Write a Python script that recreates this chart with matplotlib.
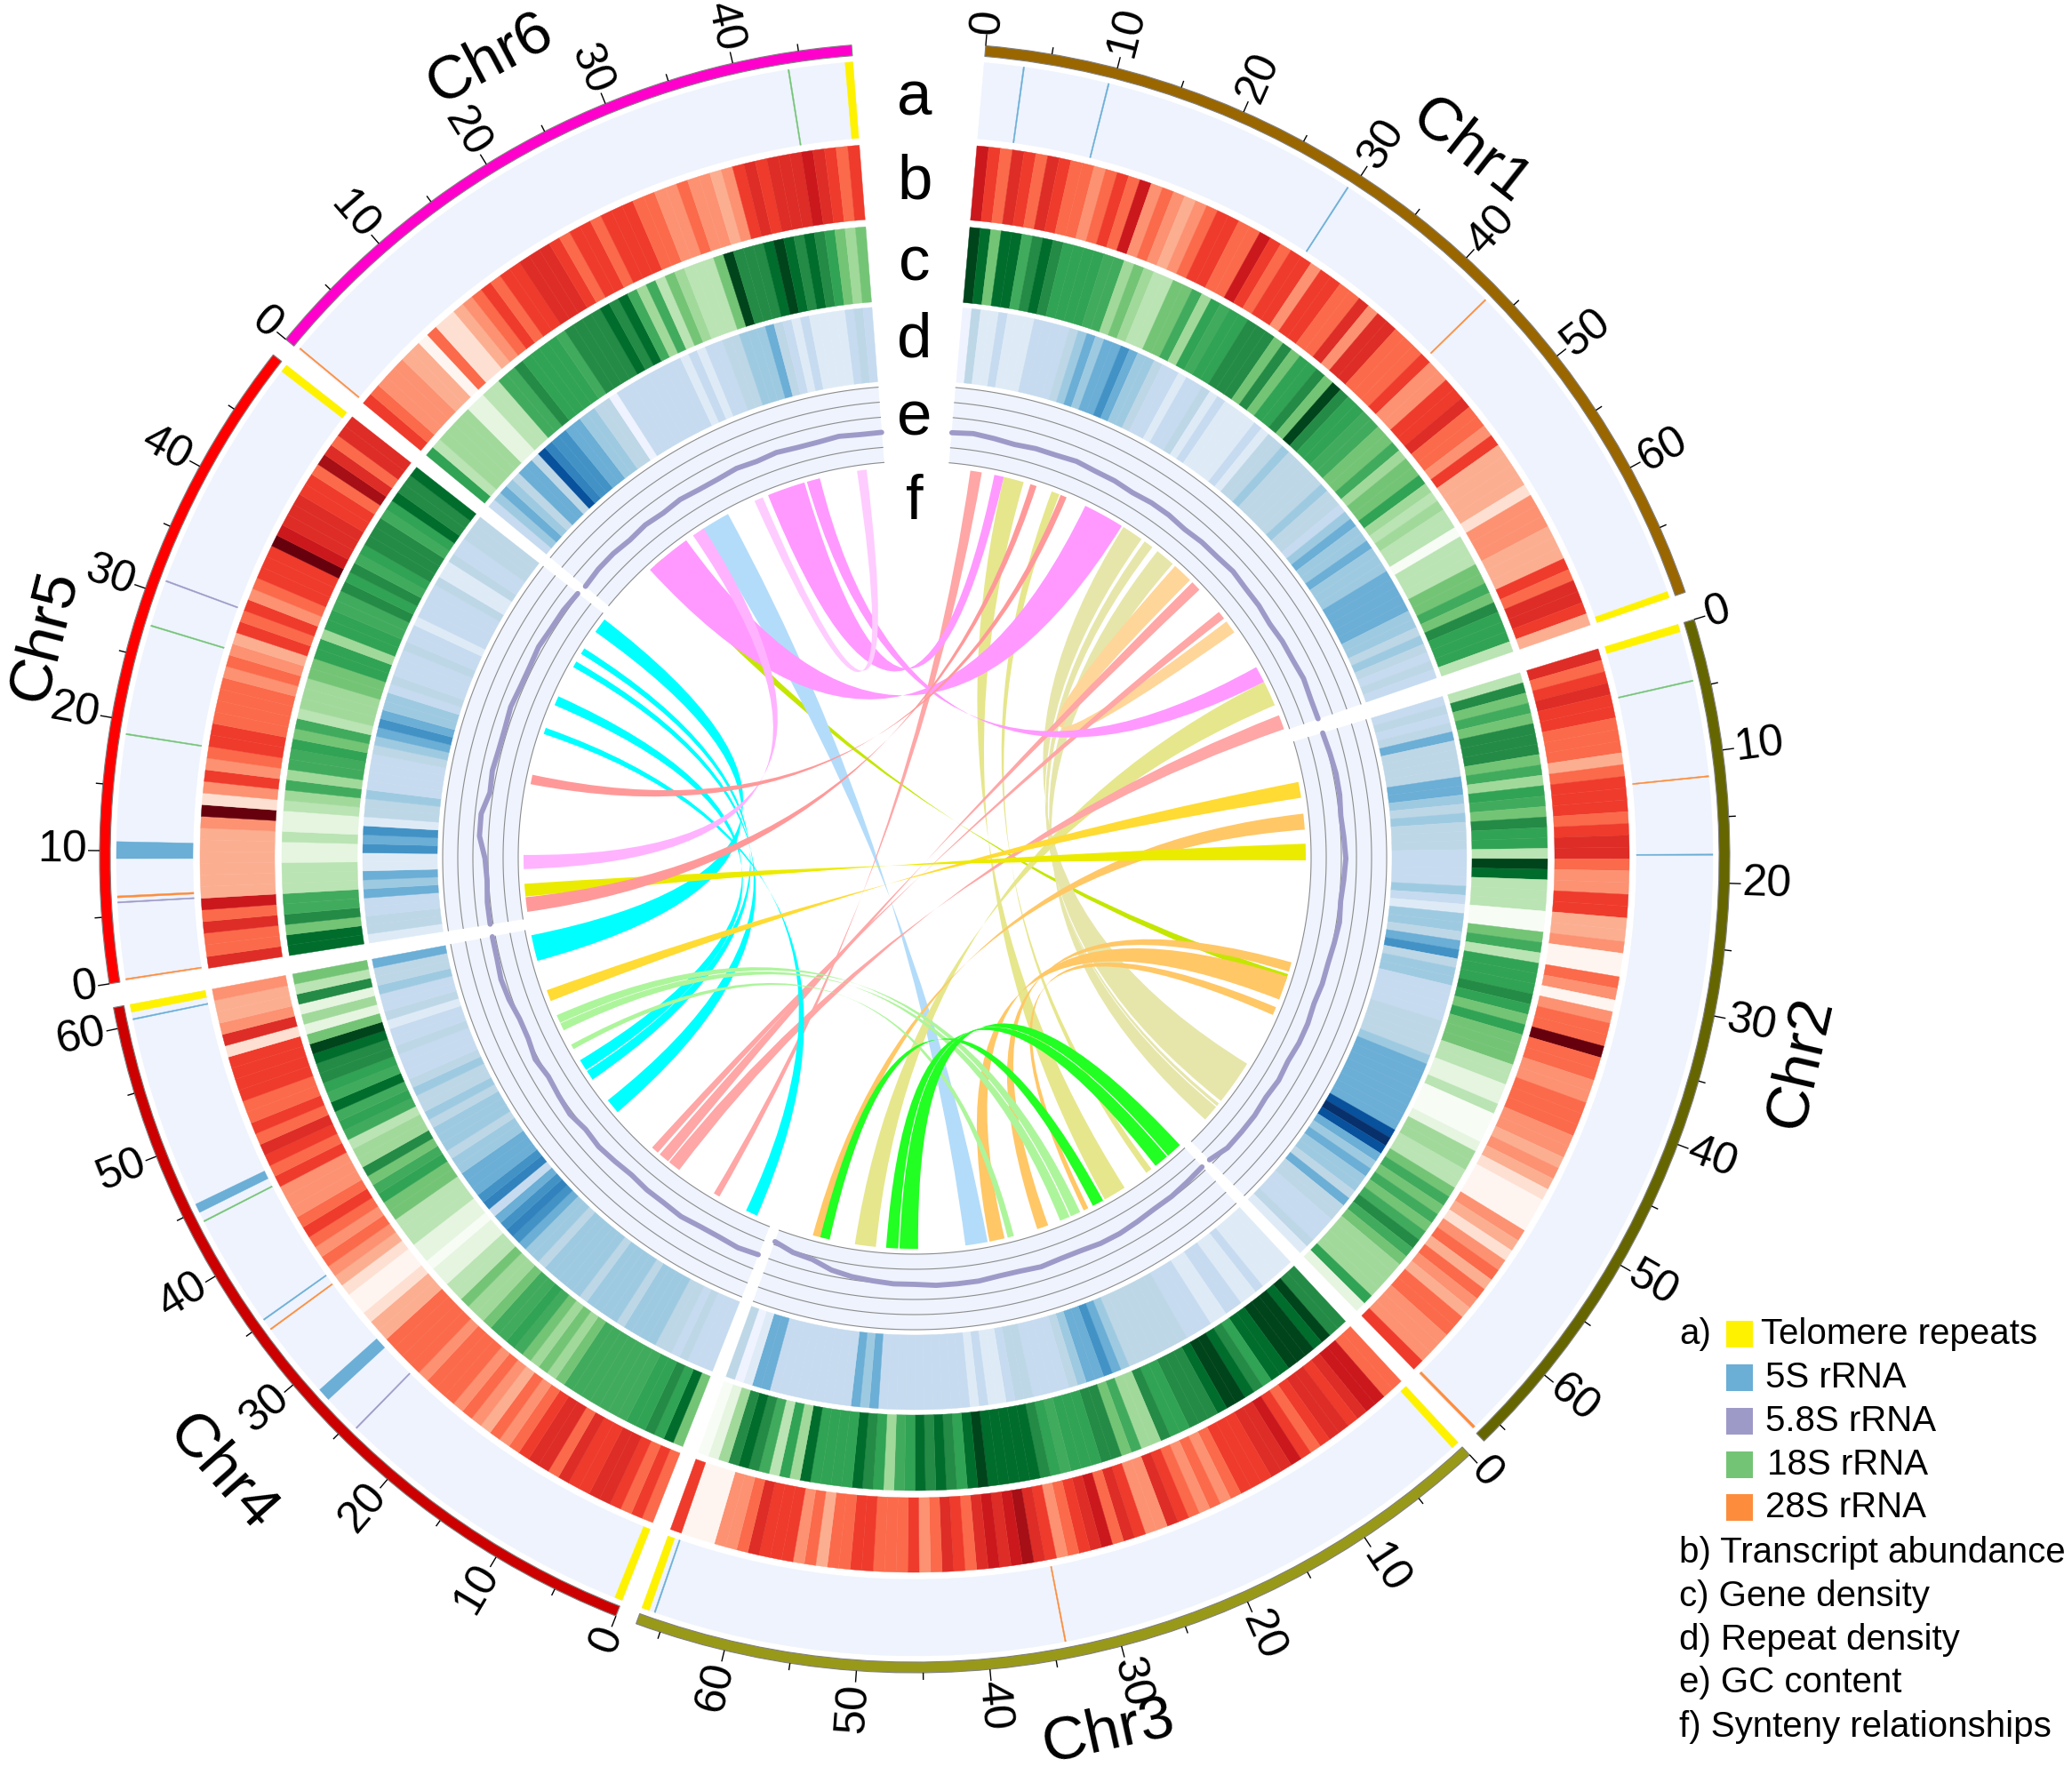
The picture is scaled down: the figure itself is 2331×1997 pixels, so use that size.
import numpy as np
import matplotlib
matplotlib.use('Agg')
import matplotlib.pyplot as plt
from matplotlib.patches import Wedge, PathPatch, Rectangle
from matplotlib.path import Path

plt.rcParams['font.family'] = ['Liberation Sans', 'DejaVu Sans']

chr_names = ['Chr1', 'Chr2', 'Chr3', 'Chr4', 'Chr5', 'Chr6']
chr_lengths = [70.2, 66.7, 66.9, 61.6, 50.0, 49.0]

# one digit per Mb, level 0-9 of the colour scale
transcript = [
    '754654654434547343234554475455355446366444533556443522221333222546652',
    '645655444245554566433552230043034494433444332321000321342432443335',
    '44776566545766555434345633564765435687676456435444554424355564330005',
    '45456655646654342343444344442210012343454333545645445555163223',
    '64464722222239135345544443432545345559766655486466',
    '5433322041123454556665455455544334332356566676545',
]
gene_density = [
    '984885787666655343224453656677747466749766554453446323220222445476662',
    '274547774536547662982220045266676464442211200013322454545754333361',
    '779899988678998777667335477666567888889867878653678666683625787310',
    '48676655555554343456554334221101122244654733256585677894131724',
    '88475522211211235355645233344663665576756777568778',
    '6233331122557666657777878535243222497778987876434',
]
repeat_density = [
    '0311211122223454556544322122312111121334333334332454454445555544343232',
    '232353333554343332222421443563442222333345555555589854544353322231',
    '111121122112223333333456554322223321121222222222254522222222255103',
    '22232334444344443444443445676527655544344434334322232213224335',
    '13322545116561334222234565442322232212222311322333',
    '2454355387665544330222222221212233444532121111232',
]
gc_content = [
    [40, 40.5, 40, 39.5, 40, 40, 40.5, 40, 40, 39.5, 40, 40, 39.5, 40, 40, 40.5, 40, 40, 39.5, 40, 40, 40.5, 40, 40],
    [40, 40.5, 41, 41, 40.5, 41, 41.5, 41, 40.5, 41, 40.5, 40, 40, 39.5, 40, 40, 39.5, 40, 39.5, 40, 40, 40, 38.5],
    [38.5, 39, 39.5, 39.5, 40, 40.5, 40.5, 40, 40, 40.5, 40, 40, 40.5, 40.5, 40.5, 40, 40, 39.5, 39, 38, 36, 35.5, 34],
    [40, 40.5, 40, 40, 40.5, 40, 40, 39.5, 40, 40.5, 40, 41, 40.5, 40, 41, 40, 40, 41, 41.5, 41, 41],
    [41, 41, 40.5, 41, 43, 43, 41, 41.5, 41, 41, 41.5, 41, 41, 41.5, 41, 41, 40.5],
    [40, 40.5, 40.5, 40, 40.5, 40, 40.5, 40, 40, 40.5, 40, 40.5, 40, 40, 40.5, 40, 40],
]
gc_grid = [30, 35, 40, 45, 50, 55]

# (chromosome, start Mb, end Mb)
telomere = [(1, 69.7, 70.2), (2, 0, 0.6), (3, 0, 0.6), (3, 66.3, 66.9), (4, 0, 0.6),
            (4, 61, 61.6), (5, 49.4, 50), (6, 48.4, 49)]
rrna_5s = [(1, 3, 3.1), (1, 9.6, 9.7), (1, 29.6, 29.7), (2, 17.8, 17.9), (3, 65.8, 65.9),
           (4, 27.4, 28.4), (4, 35.2, 35.3), (4, 44.8, 45.5), (4, 60.4, 60.5), (5, 9.4, 10.7)]
rrna_58s = [(4, 24.3, 24.4), (5, 6, 6.1), (5, 31, 31.1)]
rrna_18s = [(2, 4.4, 4.5), (4, 44, 44.1), (5, 18.9, 19), (5, 27.4, 27.5), (6, 44, 44.1)]
rrna_28s = [(1, 43.2, 43.3), (2, 11.8, 11.9), (2, 66.4, 66.6), (3, 34, 34.1), (4, 34.3, 34.4),
            (5, 0.1, 0.2), (5, 6.4, 6.55), (6, 0.1, 0.2)]

# synteny blocks: (chr a, start, end, chr b, start, end)
links_lime = [(2, 36.5, 37.8, 6, 9.5, 11)]
links_blue = [(3, 34.2, 37.7, 6, 18.6, 23.4)]
links_khaki = [(1, 8.7, 11.9, 3, 11.1, 14.7), (1, 16.5, 17.8, 3, 6, 7), (1, 62, 66, 3, 51.7, 55)]
links_pale_khaki = [(1, 29, 32.4, 2, 51.9, 59), (1, 33, 34.5, 2, 59.5, 60), (1, 35.5, 38.6, 2, 60.2, 62.8)]
links_pale_orange = [(1, 39.1, 42.3, 1, 50.9, 53)]
links_orange = [(2, 11.2, 13.7, 3, 60.1, 61.7), (2, 34.6, 36.1, 3, 24.4, 26.2),
                (2, 36.9, 40.7, 3, 31.5, 33.9), (2, 42, 43.3, 3, 17.6, 18.4)]
links_gold = [(2, 6.2, 8.7, 4, 50, 51.8)]
links_yellow = [(2, 15.9, 18.5, 5, 3.4, 5.4)]
links_light_salmon = [(1, 3.4, 5.2, 4, 9, 10), (1, 67.7, 70, 4, 16.5, 18.5),
                      (1, 42.8, 44.4, 4, 18.7, 20.4), (1, 49, 50.3, 4, 20.8, 22)]
links_salmon = [(1, 13, 14, 5, 1, 3.3), (1, 18, 19, 5, 21, 22.5)]
links_cyan = [(5, 47, 49.4, 4, 56.6, 60.7), (5, 42.9, 43.9, 4, 36.1, 37.7), (5, 33.9, 35.4, 4, 37.9, 39.7),
              (5, 40.5, 41.5, 4, 29.7, 32.1), (5, 29.1, 30.1, 4, 2.4, 4.3)]
links_light_green = [(4, 46.3, 47.6, 3, 19, 20.6), (4, 45, 46.2, 3, 20.8, 22.4), (4, 41.7, 42.5, 3, 30, 31)]
links_green = [(3, 0.2, 2.7, 3, 45.1, 48), (3, 2.9, 5.2, 3, 48.2, 50.1), (3, 15, 16.8, 3, 59, 60.5)]
links_pink = [(1, 22.2, 28.7, 6, 8.4, 15.7), (1, 7.2, 8.7, 6, 30.3, 36.3), (1, 59.4, 62, 6, 36.7, 38.8)]
links_pale_pink = [(6, 44.7, 46.2, 6, 28, 29.4)]
links_mid_pink = [(6, 17, 19, 5, 7.7, 9.9)]

legend_rrna = ['Telomere repeats', '5S rRNA', '5.8S rRNA', '18S rRNA', '28S rRNA']
legend_rest = ['b) Transcript abundance', 'c) Gene density', 'd) Repeat density', 'e) GC content', 'f) Synteny relationships']
track_letters = ['a', 'b', 'c', 'd', 'e', 'f']

W, H = 2331, 1997
cx, cy = 1029, 965
chr_starts = [5.0, 73.0, 137.1, 201.5, 261.1, 309.5]
deg_per_mb = 0.94
chr_colors = ['#996600', '#666600', '#999919', '#CC0000', '#FF0000', '#FF00CC']
bg = '#EEF3FD'
reds = ['#FFF5F0', '#FEE0D2', '#FCAE91', '#FC9272', '#FB6A4A', '#EF3B2C', '#DE2D26', '#CB181D', '#A50F15', '#67000D']
greens = ['#F7FCF5', '#E5F5E0', '#BAE4B3', '#A1D99B', '#74C476', '#41AB5D', '#31A354', '#238B45', '#006D2C', '#00441B']
blues = ['#EFF3FF', '#DEEBF7', '#C6DBEF', '#BDD7E7', '#9ECAE1', '#6BAED6', '#4292C6', '#3182BD', '#08519C', '#08306B']


def ang(ch, mb):
    return chr_starts[ch - 1] + mb * deg_per_mb


def pol(theta, r):
    t = np.radians(theta)
    return r * np.sin(t), r * np.cos(t)


def px(x, y):
    return x - cx, cy - y


def gc_radius(v):
    return 446 + (v - 30) * 3.4


def sector(ax, a1, a2, r1, r2, color, **kw):
    ax.add_patch(Wedge((0, 0), r2, 90 - a2, 90 - a1, width=r2 - r1, facecolor=color,
                       edgecolor=kw.pop('edgecolor', color), linewidth=kw.pop('linewidth', 0.3), **kw))


def ribbon(ax, link, color):
    c1, s1, e1, c2, s2, e2 = link
    a1, a2 = ang(c1, s1), ang(c1, e1)
    b1, b2 = ang(c2, s2), ang(c2, e2)
    r = 440
    arc1 = [pol(t, r) for t in np.linspace(a1, a2, 12)]
    arc2 = [pol(t, r) for t in np.linspace(b2, b1, 12)]
    verts = arc1 + [(0, 0), arc2[0]] + arc2[1:] + [(0, 0), arc1[0], arc1[0]]
    codes = [Path.MOVETO] + [Path.LINETO] * 11 + [Path.CURVE3, Path.CURVE3] + [Path.LINETO] * 11 \
        + [Path.CURVE3, Path.CURVE3, Path.CLOSEPOLY]
    ax.add_patch(PathPatch(Path(verts, codes), facecolor=color, edgecolor='none', linewidth=0))


fig = plt.figure(figsize=(W / 100, H / 100), dpi=100)
ax = fig.add_axes([0, 0, 1, 1])
ax.set_xlim(-cx, W - cx)
ax.set_ylim(cy - H, cy)
ax.set_aspect('equal')
ax.axis('off')

tracks = [(720, 804, transcript, reds), (627, 712, gene_density, greens), (537, 621, repeat_density, blues)]

for i, name in enumerate(chr_names):
    ch = i + 1
    length = chr_lengths[i]
    start, end = ang(ch, 0), ang(ch, length)

    sector(ax, start, end, 905, 917, chr_colors[i], edgecolor='#808080', linewidth=0.8)
    sector(ax, start, end, 812, 898, bg)
    sector(ax, start, end, 446, 531, bg)

    for tick in range(0, int(length), 5):
        t = ang(ch, tick)
        major = tick % 10 == 0
        x0, y0 = pol(t, 917)
        x1, y1 = pol(t, 930 if major else 925)
        ax.plot([x0, x1], [y0, y1], color='black', lw=1.0, solid_capstyle='butt')
        if major:
            x, y = pol(t, 931)
            right = t < 180
            rot = 90 - t if right else 270 - t
            ax.text(x, y, str(tick), rotation=rot, fontsize=36, ha='left' if right else 'right',
                    va='center', rotation_mode='anchor')

    for r1, r2, data, pal in tracks:
        levels = data[i]
        w = length / len(levels)
        for j, lv in enumerate(levels):
            sector(ax, ang(ch, j * w), ang(ch, (j + 1) * w), r1, r2, pal[int(lv)])

    for g in gc_grid:
        ts = np.linspace(start, end, 120)
        xy = np.array([pol(t, gc_radius(g)) for t in ts])
        ax.plot(xy[:, 0], xy[:, 1], color='#8C8C8C', lw=0.8)

    vals = gc_content[i]
    mbs = np.linspace(0, length, len(vals))
    xy = np.array([pol(ang(ch, m), gc_radius(v)) for m, v in zip(mbs, vals)])
    ax.plot(xy[:, 0], xy[:, 1], color='#9E9AC8', lw=4.2, solid_capstyle='round', solid_joinstyle='round')

for features, color in [(telomere, '#FFF200'), (rrna_5s, '#6BAED6'), (rrna_58s, '#9E9AC8'),
                        (rrna_18s, '#74C476'), (rrna_28s, '#FD8D3C')]:
    for ch, s, e in features:
        sector(ax, ang(ch, s), ang(ch, e), 812, 898, color)

for links, color in [(links_lime, '#C4E600'), (links_blue, '#B3DCFA'), (links_pale_khaki, '#E6E6AA'),
                     (links_khaki, '#E6E68C'), (links_pale_orange, '#FFD699'), (links_orange, '#FFC766'),
                     (links_light_salmon, '#FFA6A6'), (links_cyan, '#00FFFF'), (links_light_green, '#ADF59B'),
                     (links_green, '#22FF22'), (links_pink, '#FF99FF'), (links_pale_pink, '#FFCCFF'),
                     (links_mid_pink, '#FFB3FF'), (links_gold, '#FFDB33'), (links_yellow, '#EBEB00'),
                     (links_salmon, '#FF9999')]:
    for link in links:
        ribbon(ax, link, color)

chr_label_pos = [(38.2, 1011), (103, 1023), (167.5, 1008), (228.4, 1043), (284.3, 1010), (332, 1018)]
for name, (t, r) in zip(chr_names, chr_label_pos):
    x, y = pol(t, r)
    rot = -t if (t < 90 or t > 270) else 180 - t
    ax.text(x, y, name, rotation=rot, fontsize=50, ha='center', va='center', rotation_mode='anchor')

letter_y = [112, 205, 298, 383, 472, 566]
for letter, y in zip(track_letters, letter_y):
    x0, y0 = px(1029, y)
    ax.text(x0, y0, letter, fontsize=51, ha='center', va='center')

rrna_colors = ['#FFF200', '#6BAED6', '#9E9AC8', '#74C476', '#FD8D3C']
rows_y = [1501, 1550, 1599, 1648, 1696]
rows_x = [1981, 1986, 1986, 1988, 1986]
x0, y0 = px(1889, 1501)
ax.text(x0, y0, 'a)', fontsize=29, ha='left', va='center')
for txt, col, y, x in zip(legend_rrna, rrna_colors, rows_y, rows_x):
    x1, y1 = px(1942, y + 15)
    ax.add_patch(Rectangle((x1, y1), 30, 30, facecolor=col, edgecolor='none'))
    x2, y2 = px(x, y)
    ax.text(x2, y2, txt, fontsize=29, ha='left', va='center')
for txt, y in zip(legend_rest, [1747, 1796, 1845, 1893, 1943]):
    x2, y2 = px(1889, y)
    ax.text(x2, y2, txt, fontsize=29, ha='left', va='center')

fig.savefig('out.png', dpi=100, facecolor='white')
